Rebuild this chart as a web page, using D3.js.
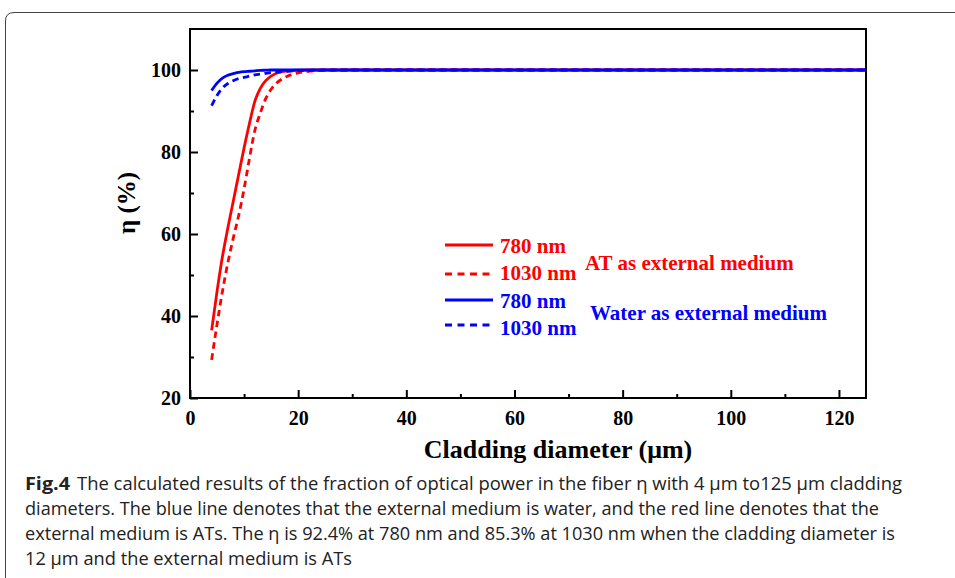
<!DOCTYPE html>
<html>
<head>
<meta charset="utf-8">
<script src="https://cdn.jsdelivr.net/npm/d3@7"></script>
<style>
  html, body { margin: 0; padding: 0; background: #fff; }
  svg { display: block; }
</style>
</head>
<body>
<svg id="chart" width="955" height="578"></svg>
<script>
// ---- data ----
const diameters = [4, 5, 6, 7, 8, 9, 10, 11, 12, 13, 14, 15, 16, 17, 18, 20, 22, 25, 30, 40, 60, 80, 100, 125];
const at780    = [36.5, 46, 54.5, 61.5, 68, 74.5, 81, 87, 92.4, 95.5, 97.4, 98.5, 99.2, 99.6, 99.8, 99.95, 100, 100, 100, 100, 100, 100, 100, 100];
const at1030   = [29.3, 38, 46, 53, 59, 64.5, 71, 78.5, 85.3, 89.5, 93, 95.3, 96.8, 97.8, 98.5, 99.3, 99.7, 99.95, 100, 100, 100, 100, 100, 100];
const water780 = [95, 96.8, 98, 98.7, 99.1, 99.4, 99.6, 99.7, 99.8, 99.9, 99.95, 100, 100, 100, 100, 100, 100, 100, 100, 100, 100, 100, 100, 100];
const water1030= [91.3, 93.8, 95.6, 96.7, 97.4, 97.9, 98.2, 98.5, 98.8, 99.0, 99.2, 99.35, 99.5, 99.6, 99.7, 99.85, 99.92, 100, 100, 100, 100, 100, 100, 100];

const xMajorTicks = [0, 20, 40, 60, 80, 100, 120];
const xMinorTicks = [10, 30, 50, 70, 90, 110];
const yMajorTicks = [20, 40, 60, 80, 100];
const yMinorTicks = [30, 50, 70, 90];

const seriesNames  = ["780 nm", "1030 nm", "780 nm", "1030 nm"];
const groupLabels  = ["AT as external medium", "Water as external medium"];
const xTitle = "Cladding diameter (\u03bcm)";
const yTitle = "\u03b7 (%)";
const captionBold = "Fig.4";
const captionLines = [
  "The calculated results of the fraction of optical power in the fiber \u03b7 with 4 \u03bcm to125 \u03bcm cladding",
  "diameters. The blue line denotes that the external medium is water, and the red line denotes that the",
  "external medium is ATs. The \u03b7 is 92.4% at 780 nm and 85.3% at 1030 nm when the cladding diameter is",
  "12 \u03bcm and the external medium is ATs"
];

// ---- drawing ----
const svg = d3.select("#chart");
const pLeft = 190, pRight = 866, pTop = 29, pBottom = 398;
const x = d3.scaleLinear().domain([0, 125]).range([pLeft, pRight]);
const y = d3.scaleLinear().domain([20, 110]).range([pBottom, pTop]);

const RED = "#ff0000", BLUE = "#0000ff";
const serif = "'Liberation Serif', 'Times New Roman', serif";

// outer rounded panel border
svg.append("path")
  .attr("d", "M5.5,590 L5.5,21 Q5.5,12.5 14,12.5 L960,12.5")
  .attr("fill", "none").attr("stroke", "#444").attr("stroke-width", 1);

// series lines
const series = [
  {v: at780, color: RED, dash: null},
  {v: at1030, color: RED, dash: "6.5,4.5"},
  {v: water780, color: BLUE, dash: null},
  {v: water1030, color: BLUE, dash: "6.5,4.5"}
];
const line = d3.line().x(d => x(d[0])).y(d => y(d[1])).curve(d3.curveMonotoneX);
series.forEach(s => {
  svg.append("path")
    .datum(diameters.map((d, i) => [d, s.v[i]]))
    .attr("d", line)
    .attr("fill", "none")
    .attr("stroke", s.color)
    .attr("stroke-width", 2.8)
    .attr("stroke-dasharray", s.dash);
});

// axes
svg.append("g").attr("transform", `translate(0,${pBottom})`)
  .call(d3.axisBottom(x).tickValues(xMajorTicks).tickSizeInner(-8).tickSizeOuter(0).tickPadding(13));
svg.append("g").attr("transform", `translate(0,${pBottom})`)
  .call(d3.axisBottom(x).tickValues(xMinorTicks).tickSizeInner(-4).tickSizeOuter(0).tickFormat(""));
svg.append("g").attr("transform", `translate(${pLeft},0)`)
  .call(d3.axisLeft(y).tickValues(yMajorTicks).tickSizeInner(-8).tickSizeOuter(0).tickPadding(9));
svg.append("g").attr("transform", `translate(${pLeft},0)`)
  .call(d3.axisLeft(y).tickValues(yMinorTicks).tickSizeInner(-4).tickSizeOuter(0).tickFormat(""));

svg.selectAll(".domain").remove();
svg.selectAll(".tick line").attr("stroke", "#000").attr("stroke-width", 2);
svg.selectAll(".tick text")
  .attr("fill", "#000")
  .style("font-family", serif)
  .style("font-weight", "bold")
  .style("font-size", "20px");

// frame
svg.append("rect")
  .attr("x", pLeft).attr("y", pTop)
  .attr("width", pRight - pLeft).attr("height", pBottom - pTop)
  .attr("fill", "none").attr("stroke", "#000").attr("stroke-width", 2);

// axis titles
svg.append("text")
  .attr("x", 558).attr("y", 458)
  .attr("text-anchor", "middle")
  .style("font-family", serif).style("font-weight", "bold").style("font-size", "26px")
  .text(xTitle);
svg.append("text")
  .attr("transform", "translate(135,203) rotate(-90)")
  .attr("text-anchor", "middle")
  .style("font-family", serif).style("font-weight", "bold").style("font-size", "25px")
  .text(yTitle);

// legend
const legendRows = [
  {ly: 245, ty: 253, color: RED, dash: null},
  {ly: 274, ty: 280, color: RED, dash: "7,5.5"},
  {ly: 300, ty: 308, color: BLUE, dash: null},
  {ly: 325, ty: 335, color: BLUE, dash: "7,5.5"}
];
legendRows.forEach((r, i) => {
  svg.append("line")
    .attr("x1", 445).attr("x2", 493).attr("y1", r.ly).attr("y2", r.ly)
    .attr("stroke", r.color).attr("stroke-width", 2.8)
    .attr("stroke-dasharray", r.dash);
  svg.append("text")
    .attr("x", 500).attr("y", r.ty)
    .attr("fill", r.color)
    .style("font-family", serif).style("font-weight", "bold").style("font-size", "21px")
    .text(seriesNames[i]);
});
svg.append("text")
  .attr("x", 585).attr("y", 270).attr("fill", RED)
  .style("font-family", serif).style("font-weight", "bold").style("font-size", "21px")
  .text(groupLabels[0]);
svg.append("text")
  .attr("x", 590).attr("y", 320).attr("fill", BLUE)
  .style("font-family", serif).style("font-weight", "bold").style("font-size", "21px")
  .text(groupLabels[1]);

// caption
const capFont = "'Open Sans', 'Noto Sans', sans-serif";
svg.append("text")
  .attr("x", 25).attr("y", 490)
  .attr("textLength", 45).attr("lengthAdjust", "spacingAndGlyphs")
  .attr("fill", "#222")
  .style("font-family", capFont).style("font-weight", "bold").style("font-size", "18px")
  .text(captionBold);
const capStarts = [77, 25, 25, 25];
const capEnds = [902, 879, 895, 352];
captionLines.forEach((t, i) => {
  svg.append("text")
    .attr("x", capStarts[i]).attr("y", 490 + i * 25)
    .attr("textLength", capEnds[i] - capStarts[i]).attr("lengthAdjust", "spacingAndGlyphs")
    .attr("fill", "#222")
    .style("font-family", capFont).style("font-size", "18px")
    .text(t);
});
</script>
</body>
</html>
